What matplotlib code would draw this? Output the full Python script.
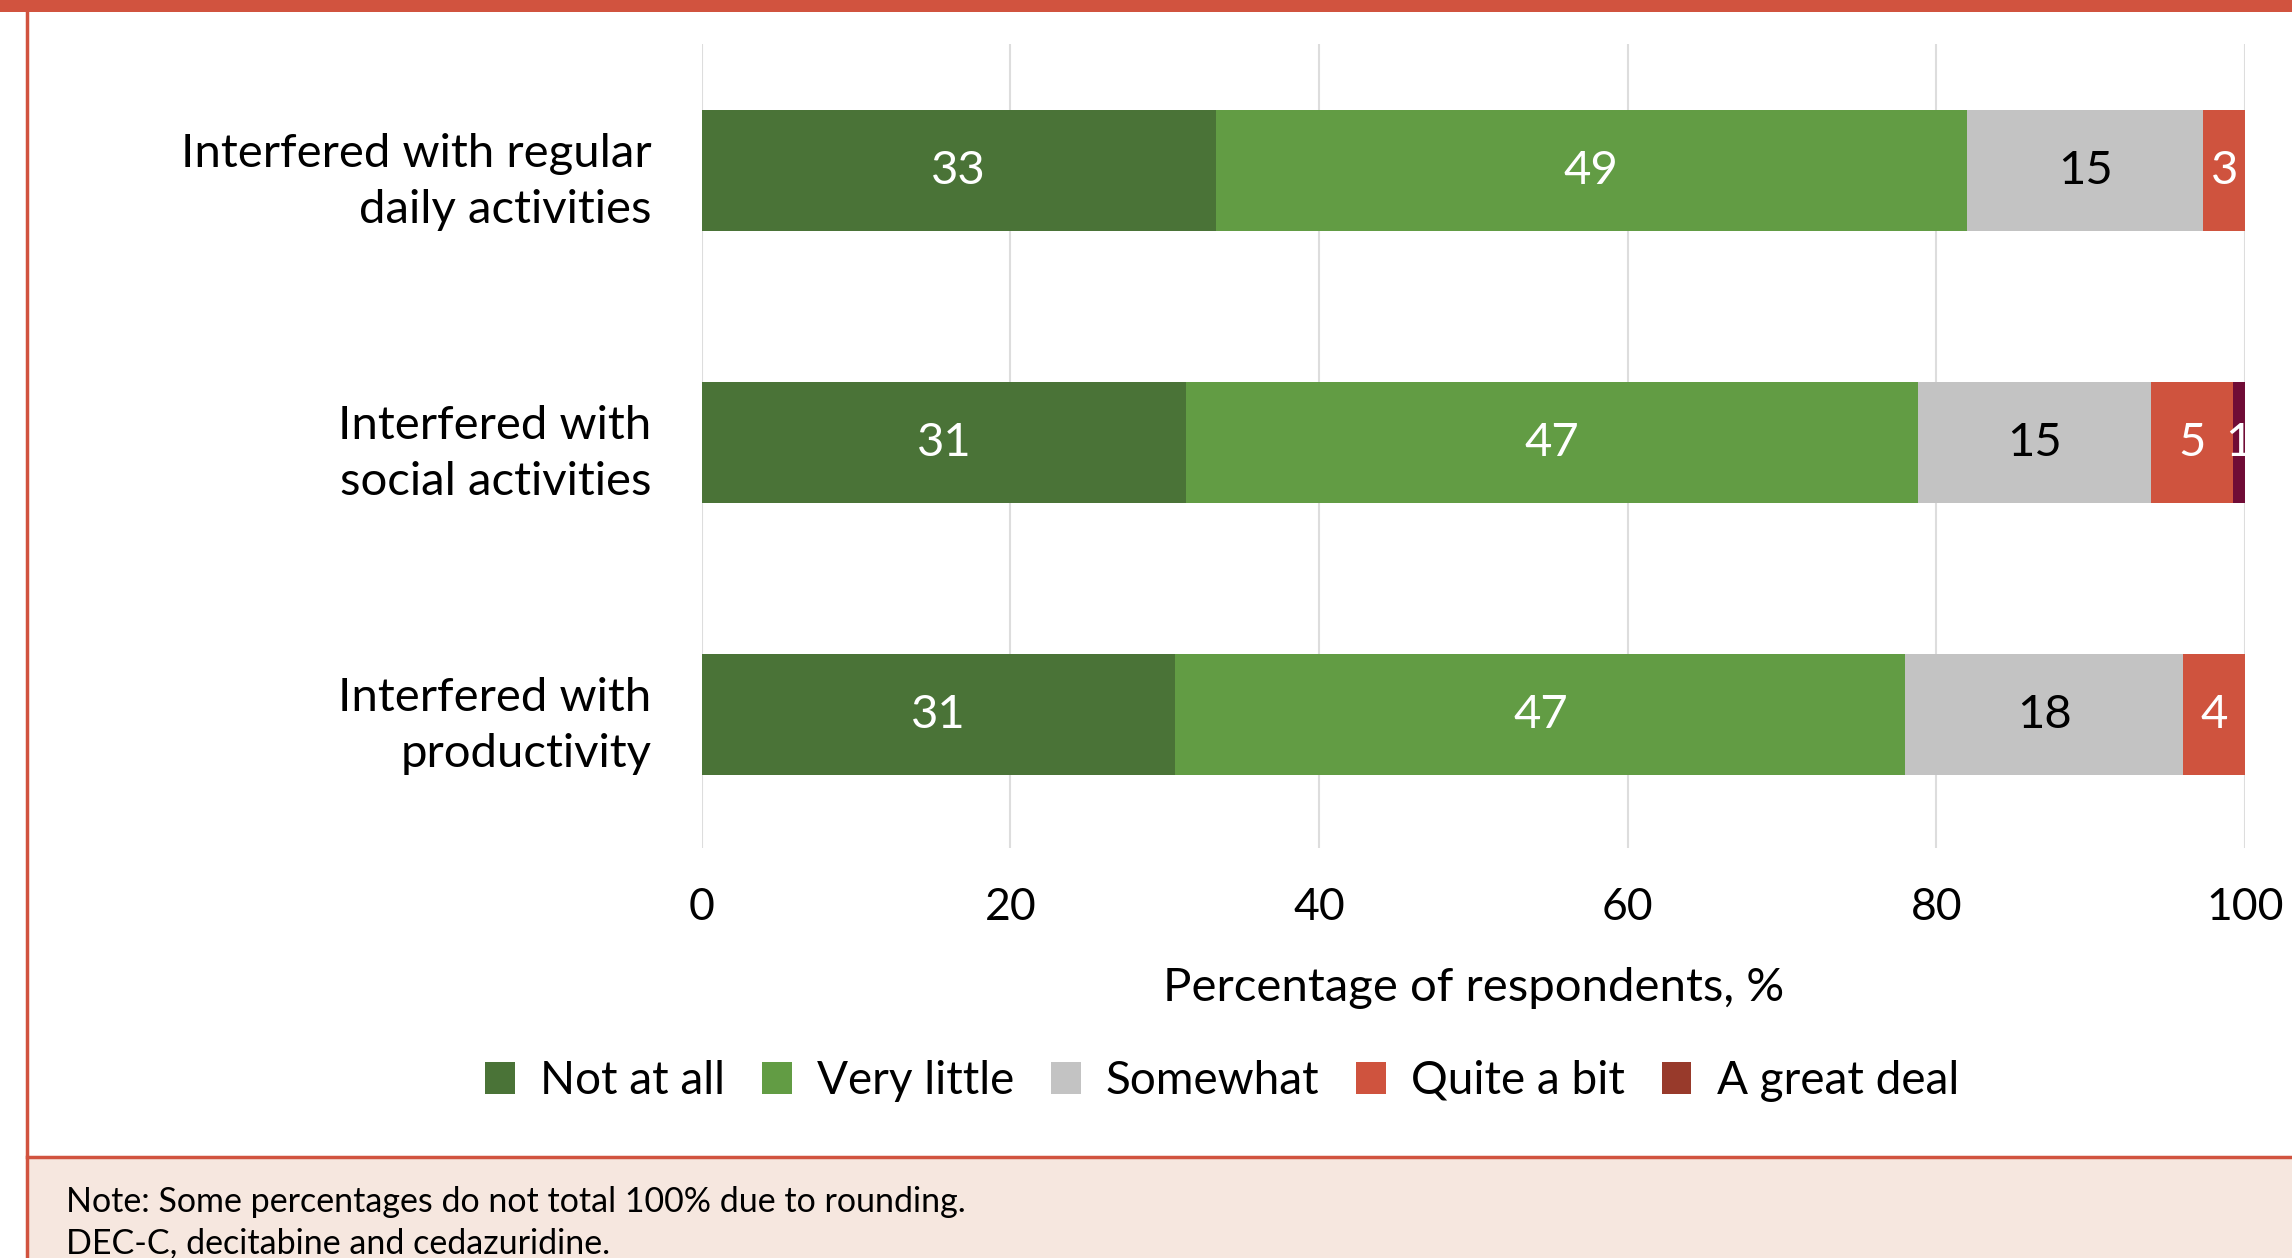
import matplotlib
matplotlib.use("Agg")
import matplotlib.pyplot as plt
from matplotlib.patches import Rectangle, Patch
import numpy as np

plt.rcParams['font.family'] = ['Lato', 'DejaVu Sans']

categories = ["Interfered with regular\ndaily activities",
              "Interfered with\nsocial activities",
              "Interfered with\nproductivity"]
series = ["Not at all", "Very little", "Somewhat", "Quite a bit", "A great deal"]
not_at_all = [33.3, 31.4, 30.7]
very_little = [48.7, 47.4, 47.3]
somewhat = [15.3, 15.1, 18.0]
quite_a_bit = [2.7, 5.3, 4.0]
great_deal = [0.0, 0.8, 0.0]
xticks = [0, 20, 40, 60, 80, 100]
xlabel = "Percentage of respondents, %"
note_lines = ["Note: Some percentages do not total 100% due to rounding.",
              "DEC-C, decitabine and cedazuridine."]

bar_colors = ["#4A7337", "#629C44", "#C3C3C3", "#CF533E", "#700C36"]
legend_colors = ["#4A7337", "#629C44", "#C3C3C3", "#CF533E", "#983A2B"]
text_colors = ["white", "white", "black", "white", "white"]
red = "#D1533F"

W, H = 2292, 1258
fig = plt.figure(figsize=(W / 100, H / 100), dpi=100)

# decorations
fig.patches.append(Rectangle((0, 1 - 12 / H), 1, 12 / H, transform=fig.transFigure,
                             facecolor=red, edgecolor='none', zorder=0))
note_top = 1 - 1157 / H
fig.patches.append(Rectangle((27 / W, 0), 1, note_top, transform=fig.transFigure,
                             facecolor="#F6E7DF", edgecolor='none', zorder=0))
fig.lines.append(plt.Line2D([27 / W, 1], [note_top, note_top], transform=fig.transFigure,
                            color=red, lw=2.5, zorder=1))
fig.lines.append(plt.Line2D([26.5 / W, 26.5 / W], [0, 1], transform=fig.transFigure,
                            color=red, lw=2.5, zorder=1))

left, right = 701.6 / W, 2245 / W
top, bottom = 1 - 44 / H, 1 - 848 / H
ax = fig.add_axes([left, bottom, right - left, top - bottom])

data = [not_at_all, very_little, somewhat, quite_a_bit, great_deal]
y = np.arange(len(categories))
cum = np.zeros(len(categories))
for vals, c, tc in zip(data, bar_colors, text_colors):
    vals = np.array(vals)
    ax.barh(y, vals, left=cum, height=0.445, color=c, edgecolor='none', zorder=2)
    for yi, v, l in zip(y, vals, cum):
        if v > 0:
            t = ax.text(l + v / 2, yi, f"{round(v):d}", ha='center', va='center',
                        color=tc, fontsize=34, zorder=3)
            t.set_clip_on(True)
    cum += vals

ax.set_xlim(0, 100)
ax.set_ylim(2.49, -0.465)
ax.set_xticks(xticks)
ax.set_yticks(y)
ax.set_yticklabels(categories, fontsize=34, multialignment='right', linespacing=1.42)
ax.tick_params(axis='y', length=0, pad=36)
ax.tick_params(axis='x', length=0, pad=28, labelsize=32)
for s in ax.spines.values():
    s.set_visible(False)
ax.grid(axis='x', color="#DDDDDD", lw=1.5, zorder=0)
ax.set_axisbelow(True)
ax.set_xlabel(xlabel, fontsize=34, labelpad=28)

handles = [Patch(facecolor=c, edgecolor='none') for c in legend_colors]
fig.legend(handles, series, loc='center', bbox_to_anchor=(1222 / W, 1 - 1081 / H),
           ncol=5, frameon=False, fontsize=33, handlelength=0.65, handleheight=0.7,
           handletextpad=0.55, columnspacing=0.8)

fig.text(66 / W, 1 - 1202 / H, note_lines[0], fontsize=24.5, va='center', ha='left')
fig.text(66 / W, 1 - 1243 / H, note_lines[1], fontsize=24.5, va='center', ha='left')

fig.savefig("out.png", dpi=100)
